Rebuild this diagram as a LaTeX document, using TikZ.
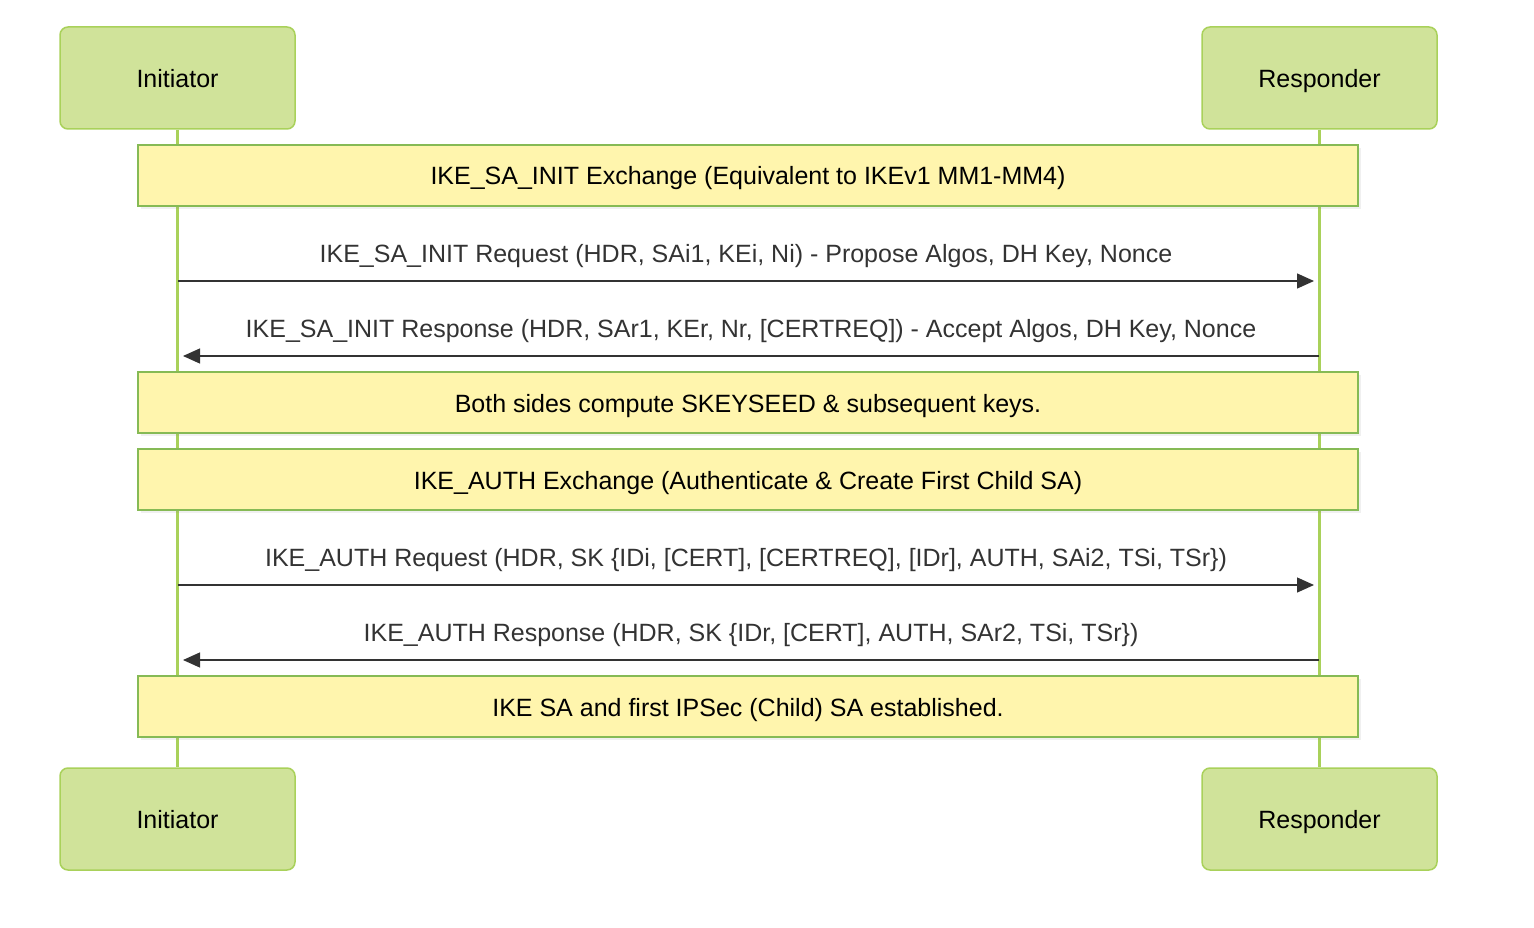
\documentclass[tikz,border=0pt]{standalone}
\usepackage{fontspec}
\setmainfont{Liberation Sans}
\usetikzlibrary{arrows.meta,shadows}
\definecolor{actfill}{HTML}{D0E39A}
\definecolor{actline}{HTML}{A9D15A}
\definecolor{notefill}{HTML}{FFF5AD}
\definecolor{noteline}{HTML}{86BA55}
\definecolor{msgtext}{HTML}{333333}
\tikzstyle{actor}=[rectangle,rounded corners=8pt,minimum width=235pt,minimum height=102pt,text centered,draw=actline,line width=1.5pt,fill=actfill,font=\fontsize{25}{30}\selectfont,text height=20pt,text depth=1pt]
\tikzstyle{note}=[rectangle,minimum width=1220pt,minimum height=61pt,text centered,draw=noteline,line width=1.5pt,fill=notefill,drop shadow={opacity=0.12,shadow xshift=3pt,shadow yshift=-3pt},font=\fontsize{25}{30}\selectfont,text height=20pt,text depth=1pt]
\tikzstyle{life}=[actline,line width=2.5pt]
\tikzstyle{arrow}=[draw=msgtext,line width=1.3pt,-{Triangle[length=17pt,width=15pt]}]
\tikzstyle{msg}=[text=msgtext,font=\fontsize{25}{30}\selectfont,anchor=base,yshift=19pt]

\begin{document}
\begin{tikzpicture}[x=1pt,y=-1pt]
    \useasboundingbox (0,0) rectangle (1534,928);
    \node (iniTop)[actor] at (177.5,78){Initiator};
    \node (resTop)[actor] at (1319.5,78){Responder};
    \node (iniBot)[actor] at (177.5,819){Initiator};
    \node (resBot)[actor] at (1319.5,819){Responder};
    \draw [life] (iniTop) -- (iniBot);
    \draw [life] (resTop) -- (resBot);
    % coordinates on the lifelines
    \coordinate (i1) at (178,281);  \coordinate (r1) at (1314,281);
    \coordinate (r2) at (1319,356); \coordinate (i2) at (183,356);
    \coordinate (i3) at (178,585);  \coordinate (r3) at (1314,585);
    \coordinate (r4) at (1319,660); \coordinate (i4) at (183,660);
    \node (note1)[note] at (748,175.5){IKE\_SA\_INIT Exchange (Equivalent to IKEv1 MM1-MM4)};
    \draw [arrow] (i1) -- node[msg]{IKE\_SA\_INIT Request (HDR, SAi1, KEi, Ni) - Propose Algos, DH Key, Nonce} (r1);
    \draw [arrow] (r2) -- node[msg]{IKE\_SA\_INIT Response (HDR, SAr1, KEr, Nr, [CERTREQ]) - Accept Algos, DH Key, Nonce} (i2);
    \node (note2)[note] at (748,402.5){Both sides compute SKEYSEED \& subsequent keys.};
    \node (note3)[note] at (748,479.5){IKE\_AUTH Exchange (Authenticate \& Create First Child SA)};
    \draw [arrow] (i3) -- node[msg]{IKE\_AUTH Request (HDR, SK \{IDi, [CERT], [CERTREQ], [IDr], AUTH, SAi2, TSi, TSr\})} (r3);
    \draw [arrow] (r4) -- node[msg]{IKE\_AUTH Response (HDR, SK \{IDr, [CERT], AUTH, SAr2, TSi, TSr\})} (i4);
    \node (note4)[note] at (748,706.5){IKE SA and first IPSec (Child) SA established.};
\end{tikzpicture}
\end{document}
